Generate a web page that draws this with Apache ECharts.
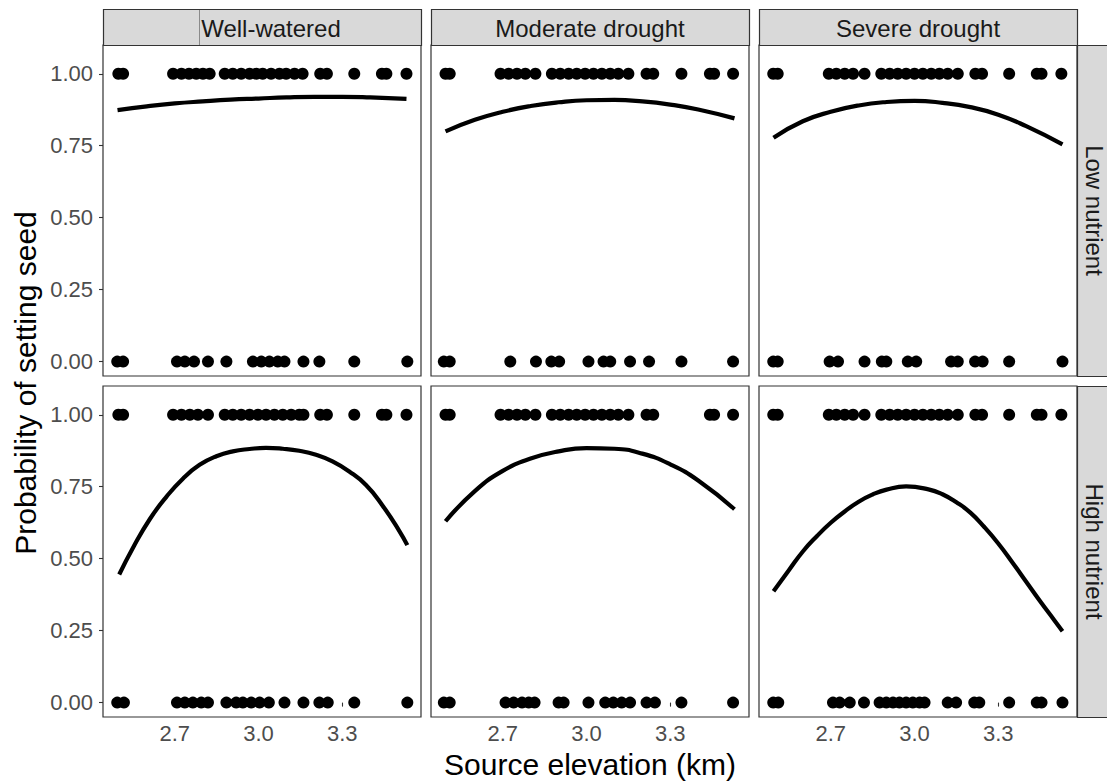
<!DOCTYPE html>
<html>
<head>
<meta charset="utf-8">
<title>Probability of setting seed by source elevation</title>
<script src="https://cdn.jsdelivr.net/npm/echarts@6/dist/echarts.min.js"></script>
<style>
  html, body { margin: 0; padding: 0; background: #ffffff; }
  #chart { width: 1107px; height: 782px; }
</style>
</head>
<body>
<div id="chart"></div>
<script>
// Facet labels
const waterLevels = ['Well-watered', 'Moderate drought', 'Severe drought'];
const nutrientLevels = ['Low nutrient', 'High nutrient'];

// Tick labels
const xTicks = [2.7, 3.0, 3.3];
const yTicks = [0, 0.25, 0.5, 0.75, 1];

// Source elevations (km) of plants that set seed (1) and that did not (0)
const lowWellSet   = [2.498, 2.515, 2.694, 2.724, 2.751, 2.777, 2.801, 2.825, 2.879, 2.908, 2.938, 2.968, 2.992, 3.015, 3.045, 3.075, 3.099, 3.129, 3.158, 3.221, 3.245, 3.343, 3.442, 3.458, 3.530];
const lowWellNone  = [2.494, 2.515, 2.708, 2.736, 2.769, 2.819, 2.885, 2.980, 3.010, 3.039, 3.069, 3.093, 3.161, 3.218, 3.343, 3.533];
const lowModSet    = [2.495, 2.510, 2.692, 2.721, 2.751, 2.781, 2.817, 2.876, 2.906, 2.936, 2.965, 2.995, 3.025, 3.055, 3.085, 3.114, 3.150, 3.215, 3.239, 3.340, 3.442, 3.457, 3.525];
const lowModNone   = [2.489, 2.510, 2.727, 2.819, 2.874, 2.902, 3.007, 3.061, 3.085, 3.156, 3.224, 3.340, 3.525];
const lowSevSet    = [2.494, 2.510, 2.693, 2.720, 2.750, 2.780, 2.821, 2.881, 2.911, 2.940, 2.970, 3.000, 3.030, 3.060, 3.089, 3.119, 3.155, 3.218, 3.242, 3.339, 3.438, 3.455, 3.526];
const lowSevNone   = [2.494, 2.510, 2.696, 2.726, 2.821, 2.883, 2.899, 2.976, 3.006, 3.131, 3.155, 3.217, 3.244, 3.339, 3.530];
const highWellSet  = [2.498, 2.515, 2.694, 2.724, 2.754, 2.783, 2.819, 2.879, 2.908, 2.938, 2.968, 2.998, 3.027, 3.057, 3.087, 3.117, 3.146, 3.161, 3.221, 3.245, 3.343, 3.442, 3.458, 3.530];
const highWellNone = [2.494, 2.518, 2.708, 2.736, 2.765, 2.795, 2.819, 2.885, 2.920, 2.944, 2.974, 3.004, 3.037, 3.093, 3.161, 3.218, 3.248, 3.343, 3.533];
const highModSet   = [2.495, 2.510, 2.692, 2.721, 2.751, 2.781, 2.817, 2.876, 2.906, 2.936, 2.965, 2.995, 3.025, 3.055, 3.085, 3.114, 3.150, 3.215, 3.239, 3.442, 3.457, 3.525];
const highModNone  = [2.489, 2.510, 2.710, 2.739, 2.769, 2.793, 2.814, 2.900, 2.918, 3.007, 3.067, 3.096, 3.126, 3.156, 3.215, 3.245, 3.340, 3.525];
const highSevSet   = [2.494, 2.510, 2.693, 2.720, 2.750, 2.780, 2.821, 2.881, 2.911, 2.940, 2.970, 3.000, 3.030, 3.060, 3.089, 3.119, 3.155, 3.218, 3.242, 3.339, 3.438, 3.455, 3.526];
const highSevNone  = [2.494, 2.512, 2.708, 2.732, 2.768, 2.819, 2.875, 2.899, 2.923, 2.946, 2.970, 2.994, 3.018, 3.036, 3.119, 3.149, 3.214, 3.232, 3.339, 3.438, 3.455, 3.530];

// Fitted probability curves: [elevation, probability]
const lowWellFit  = [[2.495, 0.874], [2.6, 0.887], [2.7, 0.897], [2.8, 0.904], [2.9, 0.910], [3.0, 0.914], [3.1, 0.918], [3.2, 0.920], [3.3, 0.920], [3.4, 0.918], [3.53, 0.913]];
const lowModFit   = [[2.495, 0.80], [2.6, 0.84], [2.7, 0.868], [2.8, 0.888], [2.9, 0.901], [3.0, 0.908], [3.1, 0.909], [3.2, 0.904], [3.3, 0.893], [3.4, 0.876], [3.53, 0.845]];
const lowSevFit   = [[2.495, 0.778], [2.6, 0.835], [2.7, 0.868], [2.8, 0.89], [2.9, 0.902], [3.0, 0.906], [3.1, 0.899], [3.2, 0.884], [3.3, 0.858], [3.4, 0.818], [3.53, 0.755]];
const highWellFit = [[2.501, 0.445], [2.551, 0.539], [2.611, 0.638], [2.670, 0.715], [2.730, 0.779], [2.789, 0.826], [2.849, 0.856], [2.908, 0.873], [2.968, 0.881], [3.027, 0.885], [3.087, 0.882], [3.146, 0.875], [3.206, 0.861], [3.265, 0.838], [3.325, 0.803], [3.385, 0.756], [3.444, 0.685], [3.504, 0.597], [3.533, 0.547]];
const highModFit  = [[2.495, 0.63], [2.6, 0.735], [2.7, 0.805], [2.8, 0.848], [2.9, 0.873], [3.0, 0.884], [3.1, 0.882], [3.2, 0.865], [3.3, 0.828], [3.4, 0.772], [3.53, 0.672]];
const highSevFit  = [[2.495, 0.387], [2.55, 0.46], [2.6, 0.525], [2.65, 0.578], [2.7, 0.625], [2.75, 0.664], [2.8, 0.698], [2.85, 0.723], [2.9, 0.740], [2.97, 0.751], [3.05, 0.741], [3.1, 0.724], [3.15, 0.696], [3.2, 0.660], [3.25, 0.610], [3.3, 0.553], [3.35, 0.488], [3.4, 0.420], [3.45, 0.352], [3.5, 0.287], [3.53, 0.248]];

// Panels in row-major order (rows = nutrient, columns = water)
const panelData = [
  { set: lowWellSet,  none: lowWellNone,  fit: lowWellFit },
  { set: lowModSet,   none: lowModNone,   fit: lowModFit },
  { set: lowSevSet,   none: lowSevNone,   fit: lowSevFit },
  { set: highWellSet, none: highWellNone, fit: highWellFit },
  { set: highModSet,  none: highModNone,  fit: highModFit },
  { set: highSevSet,  none: highSevNone,  fit: highSevFit }
];

// Layout
const FONT = "'Liberation Sans', Arial, Helvetica, sans-serif";
const colLeft = [103, 431, 759];
const rowTop = [45, 386];
const panelW = 318;
const panelH = 331;
const stripTop = 9;
const stripSize = 36;
const edge = '#333333';

const grids = [], xAxes = [], yAxes = [], series = [], graphics = [];

panelData.forEach((p, i) => {
  const row = Math.floor(i / 3), col = i % 3;
  grids.push({
    left: colLeft[col], top: rowTop[row], width: panelW, height: panelH,
    show: true, borderColor: edge, borderWidth: 1.2, backgroundColor: '#ffffff'
  });
  xAxes.push({
    type: 'value', gridIndex: i, min: 2.443, max: 3.582,
    axisLine: { show: false },
    splitLine: { show: false },
    axisTick: { show: row === 1, customValues: xTicks, length: 4, lineStyle: { color: edge, width: 1.1 } },
    axisLabel: {
      show: row === 1, customValues: xTicks, margin: 5,
      formatter: v => v.toFixed(1),
      fontFamily: FONT, fontSize: 22, color: '#4d4d4d'
    }
  });
  yAxes.push({
    type: 'value', gridIndex: i, min: -0.05, max: 1.10,
    axisLine: { show: false },
    splitLine: { show: false },
    axisTick: { show: col === 0, customValues: yTicks, length: 4, lineStyle: { color: edge, width: 1.1 } },
    axisLabel: {
      show: col === 0, customValues: yTicks, margin: 10,
      formatter: v => v.toFixed(2),
      fontFamily: FONT, fontSize: 22, color: '#4d4d4d'
    }
  });
  const dot = { color: '#000000', opacity: 1 };
  series.push({
    type: 'scatter', xAxisIndex: i, yAxisIndex: i, symbolSize: 12,
    itemStyle: dot, data: p.set.map(x => [x, 1]), silent: true
  });
  series.push({
    type: 'scatter', xAxisIndex: i, yAxisIndex: i, symbolSize: 12,
    itemStyle: dot, data: p.none.map(x => [x, 0]), silent: true
  });
  series.push({
    type: 'line', xAxisIndex: i, yAxisIndex: i, data: p.fit, smooth: true,
    showSymbol: false, lineStyle: { color: '#000000', width: 4.2, cap: 'butt' }, silent: true, z: 3
  });
});

// Column strips
waterLevels.forEach((name, c) => {
  graphics.push({
    type: 'rect', z: 10,
    shape: { x: colLeft[c] + 0.5, y: stripTop + 0.5, width: panelW, height: stripSize },
    style: { fill: '#d9d9d9', stroke: edge, lineWidth: 1.2 }
  });
  graphics.push({
    type: 'text', z: 11,
    x: colLeft[c] + panelW / 2 + (c === 0 ? 9 : 0), y: stripTop + stripSize / 2 + 1,
    style: { text: name, font: '24px ' + FONT, fill: '#1a1a1a', align: 'center', verticalAlign: 'middle' }
  });
});
// Thin mark inside the first strip
graphics.push({
  type: 'line', z: 11,
  shape: { x1: 199.5, y1: stripTop + 1, x2: 199.5, y2: stripTop + stripSize },
  style: { stroke: '#8a8a8a', lineWidth: 1 }
});

// Row strips
nutrientLevels.forEach((name, r) => {
  graphics.push({
    type: 'rect', z: 10,
    shape: { x: 1077.5, y: rowTop[r] + 0.5, width: stripSize, height: panelH },
    style: { fill: '#d9d9d9', stroke: edge, lineWidth: 1.2 }
  });
  graphics.push({
    type: 'text', z: 11,
    x: 1077 + stripSize / 2 - 1, y: rowTop[r] + panelH / 2,
    rotation: -Math.PI / 2,
    style: { text: name, font: '24px ' + FONT, fill: '#1a1a1a', align: 'center', verticalAlign: 'middle' }
  });
});

// Axis titles
graphics.push({
  type: 'text', z: 11,
  x: (colLeft[0] + colLeft[2] + panelW) / 2, y: 764,
  style: { text: 'Source elevation (km)', font: '30px ' + FONT, fill: '#000000', align: 'center', verticalAlign: 'middle' }
});
graphics.push({
  type: 'text', z: 11,
  x: 25, y: 383, rotation: Math.PI / 2,
  style: { text: 'Probability of setting seed', font: '30px ' + FONT, fill: '#000000', align: 'center', verticalAlign: 'middle' }
});

const chart = echarts.init(document.getElementById('chart'), null, { renderer: 'svg' });
chart.setOption({
  animation: false,
  backgroundColor: '#ffffff',
  grid: grids,
  xAxis: xAxes,
  yAxis: yAxes,
  series: series,
  graphic: graphics
});
</script>
</body>
</html>
